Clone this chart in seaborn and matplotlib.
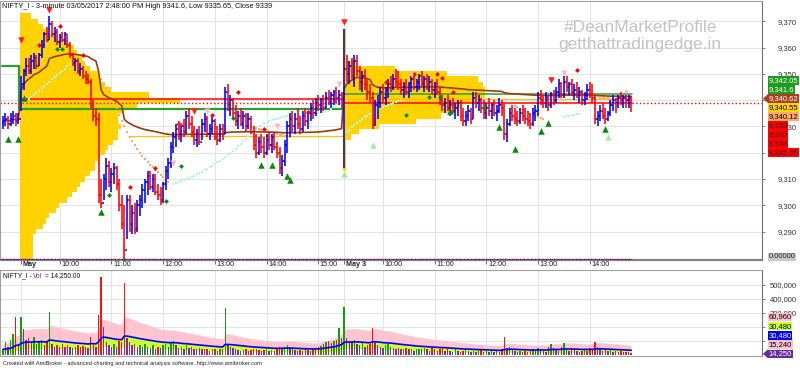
import numpy as np
import pandas as pd
import matplotlib
matplotlib.use("Agg")
import matplotlib.pyplot as plt
import matplotlib.transforms as mtransforms
from matplotlib.patches import Polygon
import seaborn as sns

sns.set_theme(style="white")
plt.rcParams['font.family'] = ['Liberation Sans', 'DejaVu Sans']

# ---------------- price bars (3-minute) ----------------
first_open = 9331
prev_high = [9334, 9335, 9334, 9335, 9336, 9335, 9335]
prev_low = [9329, 9330, 9329, 9330, 9331, 9330, 9331]
prev_close = [9332, 9333, 9331, 9333, 9334, 9332, 9333]

day1_high = [9349, 9352, 9356, 9356, 9357, 9358, 9357, 9358, 9363, 9366,
             9368, 9372, 9370, 9368, 9367, 9365, 9366, 9366, 9365, 9362,
             9358, 9356, 9356, 9354, 9353, 9351, 9350,
             9348, 9340, 9337, 9335, 9310, 9312, 9318, 9317, 9314, 9316,
             9315, 9310, 9304, 9300, 9304, 9304, 9300, 9301, 9302, 9304,
             9308, 9310, 9313, 9313, 9312, 9312, 9308, 9307, 9309, 9315,
             9318, 9324, 9328, 9331,
             9332, 9331, 9333, 9336, 9337, 9334, 9330, 9329, 9330, 9333,
             9335, 9334, 9331, 9334, 9333, 9330, 9331, 9331, 9345,
             9346, 9342, 9341, 9338, 9336, 9337, 9336, 9335, 9335, 9334,
             9330, 9327, 9326, 9327, 9326, 9327, 9328, 9327, 9328, 9324,
             9322, 9319, 9325, 9332, 9335, 9336, 9335, 9337, 9334, 9336,
             9337, 9336, 9339, 9340, 9341, 9342, 9341, 9342, 9343, 9344,
             9343, 9344, 9345, 9344, 9343]
day1_low = [9336, 9344, 9349, 9350, 9350, 9352, 9352, 9353, 9356, 9360,
            9362, 9363, 9364, 9362, 9361, 9360, 9362, 9361, 9360, 9356,
            9353, 9351, 9350, 9349, 9348, 9346, 9346,
            9337, 9332, 9330, 9301, 9299, 9302, 9306, 9307, 9305, 9308,
            9306, 9298, 9291, 9279, 9287, 9290, 9289, 9289, 9290, 9296,
            9299, 9301, 9304, 9306, 9305, 9304, 9302, 9300, 9301, 9306,
            9310, 9314, 9320, 9322,
            9325, 9324, 9326, 9327, 9329, 9326, 9323, 9322, 9323, 9325,
            9328, 9326, 9325, 9327, 9325, 9323, 9324, 9325, 9327,
            9336, 9334, 9333, 9330, 9329, 9330, 9329, 9328, 9329, 9327,
            9321, 9318, 9319, 9320, 9318, 9319, 9321, 9320, 9321, 9318,
            9312, 9311, 9315, 9320, 9326, 9328, 9327, 9329, 9327, 9328,
            9330, 9329, 9332, 9333, 9334, 9336, 9335, 9336, 9337, 9338,
            9337, 9338, 9339, 9338, 9337]
day1_close = [9346, 9351, 9353, 9351, 9355, 9356, 9353, 9357, 9361, 9365,
              9363, 9369, 9365, 9366, 9362, 9364, 9363, 9365, 9361, 9357,
              9354, 9355, 9351, 9352, 9349, 9348, 9347,
              9338, 9334, 9333, 9304, 9301, 9310, 9315, 9309, 9312, 9314,
              9308, 9300, 9293, 9283, 9302, 9293, 9297, 9291, 9300, 9302,
              9306, 9309, 9311, 9307, 9310, 9305, 9304, 9302, 9308, 9313,
              9316, 9322, 9326, 9329,
              9327, 9330, 9328, 9334, 9331, 9328, 9325, 9327, 9324, 9331,
              9333, 9327, 9329, 9332, 9326, 9325, 9329, 9327, 9343,
              9338, 9340, 9335, 9332, 9334, 9331, 9334, 9330, 9333, 9328,
              9323, 9320, 9324, 9322, 9320, 9325, 9323, 9326, 9322, 9320,
              9314, 9317, 9323, 9330, 9333, 9330, 9333, 9331, 9329, 9334,
              9332, 9335, 9337, 9335, 9339, 9338, 9340, 9337, 9341, 9339,
              9342, 9343, 9341, 9342, 9340]

day2_high = [9367, 9357, 9355, 9356, 9357, 9357, 9353, 9351, 9352, 9348,
             9346, 9343, 9340, 9342, 9345, 9346, 9345, 9348, 9349, 9350,
             9352, 9351, 9348, 9347, 9348, 9347, 9349, 9350, 9348, 9350,
             9351, 9349, 9350, 9349, 9348, 9347, 9348, 9345, 9342, 9341,
             9342, 9340, 9341, 9339, 9340, 9340, 9337, 9336, 9338, 9337,
             9343, 9343, 9342, 9341, 9340, 9339, 9341, 9339, 9340, 9338,
             9341, 9340, 9339, 9333, 9337, 9338, 9337, 9336, 9337, 9338,
             9337, 9336, 9335, 9337, 9338, 9343, 9344, 9342, 9343, 9342,
             9343, 9344, 9345, 9348, 9347, 9349, 9349, 9347, 9348, 9346,
             9347, 9345, 9344, 9343, 9346, 9347, 9346, 9342, 9336, 9338,
             9339, 9337, 9336, 9340, 9342, 9341, 9342, 9343, 9342, 9342,
             9342, 9341.6]
day2_low = [9314, 9347, 9346, 9348, 9345, 9349, 9344, 9343, 9344, 9340,
            9339, 9329, 9330, 9333, 9337, 9339, 9338, 9341, 9343, 9344,
            9345, 9344, 9342, 9341, 9342, 9341, 9343, 9344, 9343, 9344,
            9345, 9343, 9344, 9343, 9342, 9341, 9342, 9338, 9336, 9335,
            9336, 9334, 9335, 9333, 9334, 9332, 9330, 9330, 9332, 9331,
            9333, 9337, 9336, 9335, 9333, 9333, 9334, 9333, 9334, 9332,
            9335, 9334, 9325, 9324, 9330, 9332, 9331, 9330, 9331, 9332,
            9331, 9330, 9329, 9330, 9332, 9334, 9338, 9337, 9337, 9336,
            9337, 9338, 9339, 9341, 9341, 9341, 9343, 9342, 9342, 9340,
            9341, 9339, 9338, 9338, 9340, 9341, 9339, 9331, 9330, 9332,
            9333, 9331, 9332, 9334, 9336, 9335, 9337, 9338, 9337, 9337,
            9337, 9335.65]
day2_close = [9352, 9350, 9353, 9349, 9355, 9351, 9347, 9349, 9346, 9343,
              9341, 9331, 9338, 9339, 9343, 9341, 9344, 9346, 9345, 9348,
              9347, 9346, 9344, 9345, 9343, 9346, 9348, 9345, 9347, 9349,
              9346, 9348, 9345, 9347, 9344, 9346, 9343, 9340, 9338, 9339,
              9337, 9338, 9336, 9337, 9339, 9334, 9332, 9334, 9336, 9333,
              9341, 9339, 9340, 9337, 9335, 9337, 9336, 9338, 9335, 9336,
              9338, 9337, 9327, 9331, 9335, 9334, 9333, 9332, 9335, 9334,
              9333, 9332, 9331, 9335, 9336, 9341, 9340, 9339, 9341, 9338,
              9342, 9340, 9343, 9346, 9342, 9347, 9345, 9346, 9343, 9344,
              9342, 9343, 9340, 9342, 9344, 9342, 9341, 9333, 9334, 9336,
              9334, 9333, 9335, 9338, 9340, 9339, 9341, 9340, 9341, 9340,
              9341, 9339]

# ---------------- volume (thousands) ----------------
prev_vol = [40, 90, 60, 110, 150, 271, 80]
day1_vol = [271, 186, 110, 120, 90, 130, 80, 100, 110, 70,
            90, 307, 80, 60, 70, 55, 80, 60, 70, 60,
            50, 60, 70, 55, 65, 60, 50,
            128, 70, 60, 285, 557, 200, 90, 70, 60, 80,
            60, 100, 90, 514, 120, 90, 70, 80, 60, 70,
            60, 80, 60, 50, 70, 40, 60, 50, 70, 80,
            60, 90, 100, 70,
            50, 60, 45, 70, 50, 60, 45, 40, 50, 45,
            40, 45, 30, 40, 45, 30, 40, 45, 335,
            80, 60, 50, 40, 35, 30, 35, 40, 30, 35,
            40, 45, 35, 30, 35, 40, 30, 35, 30, 40,
            55, 45, 60, 70, 50, 40, 35, 30, 35, 30,
            40, 35, 30, 45, 40, 55, 65, 80, 90, 100,
            85, 100, 110, 193, 120]
day2_vol = [343, 120, 100, 90, 110, 80, 70, 90, 60, 70,
            80, 193, 100, 70, 60, 50, 70, 80, 60, 50,
            45, 50, 40, 45, 50, 40, 45, 30, 40, 45,
            40, 50, 40, 30, 50, 40, 30, 40, 50, 30,
            40, 30, 20, 40, 30, 20, 30, 40, 30, 20,
            30, 20, 30, 40, 20, 30, 20, 30, 20, 30,
            20, 40, 128, 50, 60, 40, 30, 20, 30, 20,
            30, 20, 30, 40, 30, 50, 40, 30, 20, 60,
            78, 50, 40, 30, 60, 85, 40, 30, 50, 40,
            30, 20, 30, 40, 30, 50, 40, 93, 60, 40,
            30, 40, 30, 35, 25, 30, 25, 30, 20, 25, 20, 14.25]

# ---------------- market profiles (bin low price, length in bars) ----------------
profile1_low = list(range(9279, 9373, 2))
profile1_len = [5, 5, 5, 5, 5, 6, 9, 10, 11, 14, 15, 18, 20, 22, 23, 25, 27, 29,
                29, 30, 33, 34, 36, 38, 38, 39, 38, 38, 40, 45, 62, 50, 35, 33,
                31, 30, 27, 25, 24, 22, 21, 18, 14, 11, 9, 7, 4]
profile2_low = list(range(9313, 9367, 2))
profile2_len = [1, 1, 1, 1, 1, 1, 3, 6, 14, 28, 38, 42, 46, 52, 55, 55, 54, 52,
                40, 20, 5, 1, 1, 1, 1, 1, 1]

# ---------------- trailing-stop dots ----------------
cyan1_start, cyan1 = 2, [9339.6, 9340.3, 9341.1, 9341.9, 9342.8, 9343.6, 9344.5,
                         9345.3, 9346.2, 9347.0, 9347.9, 9348.7, 9349.6, 9350.4,
                         9351.2, 9352.0, 9352.8, 9353.6, 9354.3, 9355.0, 9355.6]
cyan2_start, cyan2 = 59, [9308.0, 9308.4, 9308.8, 9309.2, 9309.6, 9310.0, 9310.4, 9310.9, 9311.3, 9311.8,
                          9312.3, 9312.8, 9313.3, 9313.9, 9314.5, 9315.1, 9315.7, 9316.3, 9316.9, 9317.5,
                          9318.2, 9319.0, 9319.8, 9320.6, 9321.5, 9322.4, 9323.3, 9324.3, 9325.3, 9326.3,
                          9327.3, 9328.3, 9329.2, 9330.0, 9330.7, 9331.3, 9331.8, 9332.2, 9332.5, 9332.8,
                          9333.0, 9333.2, 9333.4, 9333.6, 9333.8, 9334.0, 9334.1, 9334.2, 9334.3, 9334.4,
                          9334.5, 9334.6, 9334.7, 9334.8, 9334.9, 9335.0, 9335.1, 9335.3, 9335.5, 9335.7,
                          9336.0, 9336.5, 9337.2, 9338.0, 9338.8, 9339.6]
cyan3_start, cyan3 = 126, [9328.0, 9328.8, 9329.6, 9330.4, 9331.2, 9332.0, 9332.7, 9333.4,
                           9334.1, 9334.8, 9335.4, 9336.0, 9336.5, 9337.0, 9337.5, 9337.9,
                           9338.3, 9338.7, 9339.0, 9339.3, 9339.6, 9339.8]
cyan4_start, cyan4 = 210, [9333.6, 9333.8, 9334.0, 9334.2, 9334.4, 9334.6, 9334.8]
orange1_start, orange1 = 31, [9348.0, 9346.0, 9344.5, 9343.0, 9341.0, 9339.0, 9337.0, 9334.5,
                              9332.0, 9330.0, 9328.0, 9326.0, 9324.3, 9322.8, 9321.3, 9320.0,
                              9318.8, 9317.6, 9316.5, 9315.4, 9314.4, 9313.4, 9312.5, 9311.6,
                              9310.7, 9309.8, 9309.0]
orange2_start, orange2 = 88, [9330.0, 9329.8, 9329.5, 9329.3, 9329.0, 9328.8, 9328.5, 9328.2, 9328.0,
                              9327.7, 9327.4, 9327.2, 9326.9, 9326.7, 9326.4, 9326.2, 9326.0]
orange3_start, orange3 = 191, [9337.7, 9337.3, 9336.8, 9336.3, 9335.8, 9335.3, 9334.8, 9334.3,
                               9333.9, 9333.5, 9333.1, 9332.7]
orange4_start, orange4 = 224, [9341.0, 9340.9, 9340.8, 9340.7, 9340.6, 9340.6, 9340.5, 9340.4,
                               9340.4, 9340.3, 9340.2, 9340.2, 9340.12]

# ---------------- signal markers (bar, price) ----------------
red_tri_k = [0, 11, 61, 67, 125, 205]
red_tri_p = [9362.7, 9374.2, 9330.0, 9336.0, 9369.6, 9347.7]
pink_tri_k = [59, 72, 99, 123, 210]
pink_tri_p = [9316.0, 9336.0, 9330.0, 9346.0, 9350.4]
green_tri_k = [-5, -1, 1, 31, 40, 93, 97, 103, 104, 166, 185, 191, 201, 204, 226]
green_tri_p = [9325.4, 9325.4, 9340.8, 9297.3, 9279.2, 9315.4, 9315.4, 9311.0, 9309.5,
               9335.8, 9329.6, 9321.5, 9328.1, 9331.2, 9329.2]
lgreen_tri_k = [125, 136, 227]
lgreen_tri_p = [9312.0, 9323.0, 9326.0]
red_dot_k = [7, 15, 24, 42, 52, 74, 84, 94, 111, 141, 152, 161, 163, 167, 215]
red_dot_p = [9360.8, 9368.1, 9357.3, 9306.9, 9314.2, 9334.2, 9343.1, 9328.9, 9335.4,
             9346.9, 9350.0, 9350.0, 9348.5, 9343.1, 9351.5]
green_dot_k = [14, 16, 34, 56, 62, 82, 149, 158, 162, 179]
green_dot_p = [9359.6, 9359.6, 9303.9, 9301.5, 9315.0, 9333.1, 9334.2, 9341.2, 9341.2, 9337.0]
pink_dot_k = [151, 234]
pink_dot_p = [9350.0, 9343.5]

# ---------------- horizontal levels ----------------
lvl_price = [9340.4, 9338.8, 9336.5, 9326.2, 9339.0, 9342.2, 9340.55, 9339.0]
lvl_from = [-0.5, -8.2, -0.5, 42, 124.5, 124.5, 124.5, 236.5]
lvl_to = [124.5, 124.5, 124.5, 124.5, 236.5, 236.5, 236.5, 287]
lvl_color = ['#FF0000', '#FF0000', '#2CA02C', '#FFC000', '#FF0000', '#2CA02C', '#FFC000', '#FF0000']
lvl_style = ['-', ':', '-', '-', '-', '-', '-', ':']
lvl_width = [1.1, 1.0, 1.6, 0.9, 1.1, 1.1, 0.9, 1.0]
prev_step_k = [-7.3, -0.8, -0.8]
prev_step_p = [9353.0, 9353.0, 9336.5]

# ---------------- axis labels ----------------
tick_k = [0, 15, 35, 55, 75, 95, 115, 125, 140, 160, 180, 200, 220]
tick_lbl = ['May', '10:00', '11:00', '12:00', '13:00', '14:00', '15:00',
            'May 3', '10:00', '11:00', '12:00', '13:00', '14:00']
price_ticks = [9290, 9300, 9310, 9320, 9330, 9340, 9350, 9360, 9370]
price_tick_lbl = ['9,290', '9,300', '9,310', '', '9,330', '', '9,350', '9,360', '9,370']
vol_ticks = [100000, 200000, 300000, 400000, 500000]
vol_tick_lbl = ['', '', '300,000', '400,000', '500,000']
price_tags = ['9,342.05', '9,341.6', '9,340.62', '9,340.55', '9,340.12', '9,339', '9,339', '9,339', '9,335.65']
price_tag_bg = ['#1E9A1E', '#1E9A1E', '#A5421A', '#FFD400', '#FFA868', '#FF0000', '#FF0000', '#FF0000', '#FF0000']
price_tag_fg = ['white', 'white', 'white', 'black', 'black', '#3A0000', '#3A0000', '#3A0000', '#3A0000']
vol_tags = ['60,960', '30,480', '30,480', '15,240', '14,250']
vol_tag_bg = ['#FFC0CB', '#CCFF33', '#0000FF', '#FFC0CB', '#6A2A9A']
vol_tag_fg = ['black', 'black', 'white', 'black', 'white']

# ================= build frame =================
highs = np.array(prev_high + day1_high + day2_high, float)
lows = np.array(prev_low + day1_low + day2_low, float)
closes = np.array(prev_close + day1_close + day2_close, float)
vols = np.array(prev_vol + day1_vol + day2_vol, float) * 1000
n = len(closes)
kk = np.arange(n) - 7
opens = np.concatenate([[first_open], closes[:-1]])
day = np.array([-1] * len(prev_close) + [0] * len(day1_close) + [1] * len(day2_close))
df = pd.DataFrame(dict(k=kk, o=opens, h=highs, l=lows, c=closes, v=vols, day=day))
df['tp'] = (df.h + df.l + df.c) / 3
df['pv'] = df.tp * df.v
df['vwap'] = df.groupby('day').pv.cumsum() / df.groupby('day').v.cumsum()
df['ma'] = df.v.ewm(span=30, adjust=False).mean()

W, H = 800, 368
fig = plt.figure(figsize=(8, 3.68), dpi=100, facecolor='white')
ax = fig.add_axes([0, 1 - 260 / H, 762 / W, 259 / H])
axv = fig.add_axes([0, 1 - 356 / H, 762 / W, 86 / H])

XMIN, XMAX = -8.1, 286.6
ax.set_xlim(XMIN, XMAX)
ax.set_ylim(9279.2, 9377.7)
axv.set_xlim(XMIN, XMAX)
axv.set_ylim(-7000, 607000)

grid_c = '#E4E4E4'
for a, ticks in ((ax, price_ticks), (axv, vol_ticks)):
    a.set_facecolor('white')
    a.hlines(ticks, XMIN, XMAX, color=grid_c, lw=0.8, zorder=0)
    lo, hi = a.get_ylim()
    a.vlines(tick_k, lo, hi, color=grid_c, lw=0.8, zorder=0)
    for s in a.spines.values():
        s.set_color('#A0A0A0')
        s.set_linewidth(0.8)
    a.spines['right'].set_color('#707070')
    a.yaxis.tick_right()
    a.tick_params(axis='y', which='major', right=True, left=False, direction='out',
                  length=2.2, width=0.6, color='#707070', labelsize=5.5,
                  labelcolor='#333333', pad=23)
    a.set_xticks(tick_k)
    a.tick_params(axis='x', bottom=True, direction='out', length=2.6, width=0.6,
                  color='#555555', labelbottom=False)
ax.spines['bottom'].set_color('#808080')
ax.spines['bottom'].set_linewidth(1.6)

# ---- profiles ----
ax.barh(np.array(profile1_low) + 1, profile1_len, left=-0.3, height=2.0,
        color='#FFD200', lw=0, zorder=1)
ax.barh(np.array(profile2_low) + 1, profile2_len, left=124.6, height=2.0,
        color='#FFD200', lw=0, zorder=1)

# ---- levels ----
for p, x0, x1, c, ls, lw in zip(lvl_price, lvl_from, lvl_to, lvl_color, lvl_style, lvl_width):
    ax.plot([x0, x1], [p, p], color=c, ls=ls, lw=lw, zorder=2)
ax.plot(prev_step_k, prev_step_p, color='#2CA02C', lw=1.6, zorder=2)

# ---- trailing dots ----
for start, vals, col in ((cyan1_start, cyan1, '#B0F4F4'), (cyan2_start, cyan2, '#B0F4F4'),
                         (cyan3_start, cyan3, '#B0F4F4'), (cyan4_start, cyan4, '#B0F4F4'),
                         (orange1_start, orange1, '#FFA868'), (orange2_start, orange2, '#FFA868'),
                         (orange3_start, orange3, '#FFA868'), (orange4_start, orange4, '#FFA868')):
    xs = np.arange(start, start + len(vals))
    ax.scatter(xs, vals, s=3.5, marker='s', color=col, lw=0, zorder=3)

# ---- VWAP ----
sns.lineplot(data=df, x='k', y='vwap', ax=ax, color='#9A3B12', lw=1.2, zorder=3)

# ---- OHLC bars ----
bar_col = np.where(df.c >= df.o, '#0000FF', '#FF0000')
ax.vlines(df.k, df.l, df.h, colors=bar_col, lw=1.15, zorder=4)
ax.hlines(df.o, df.k - 0.5, df.k, colors=bar_col, lw=1.15, zorder=4)
ax.hlines(df.c, df.k, df.k + 0.5, colors=bar_col, lw=1.15, zorder=4)

# ---- markers ----
sns.scatterplot(x=red_tri_k, y=red_tri_p, marker='v', s=22, color='#FF2020', linewidth=0, ax=ax, zorder=5)
sns.scatterplot(x=pink_tri_k, y=pink_tri_p, marker='v', s=18, color='#FFB6C8', linewidth=0, ax=ax, zorder=5)
sns.scatterplot(x=green_tri_k, y=green_tri_p, marker='^', s=22, color='#0A8A0A', linewidth=0, ax=ax, zorder=5)
sns.scatterplot(x=lgreen_tri_k, y=lgreen_tri_p, marker='^', s=20, color='#98F098', linewidth=0, ax=ax, zorder=5)
sns.scatterplot(x=red_dot_k, y=red_dot_p, marker='D', s=6, color='#FF0000', linewidth=0, ax=ax, zorder=5)
sns.scatterplot(x=green_dot_k, y=green_dot_p, marker='D', s=6, color='#0A8A0A', linewidth=0, ax=ax, zorder=5)
sns.scatterplot(x=pink_dot_k, y=pink_dot_p, marker='D', s=6, color='#FFB6C8', linewidth=0, ax=ax, zorder=5)

# bottom red/blue dotted axis line
ybot = 9279.6
ax.plot([XMIN, 236.5], [ybot, ybot], color='#FF0000', lw=0.9, ls=(0, (1, 2)), zorder=6)
ax.plot([XMIN, 236.5], [ybot, ybot], color='#0000FF', lw=0.9, ls=(1.5, (1, 2)), zorder=6)

# time labels
trans = mtransforms.blended_transform_factory(ax.transData, ax.transAxes)
for t, lbl in zip(tick_k, tick_lbl):
    ax.text(t + 0.6, -5 / 259, lbl, transform=trans, ha='left', va='center',
            fontsize=5.2, color='#222222',
            fontweight='bold' if lbl.startswith('May') else 'normal', clip_on=False)

# ---- volume panel ----
axv.fill_between(df.k, 0.5 * df.ma, 2 * df.ma, color='#FFC4CE', lw=0, zorder=1)
axv.fill_between(df.k, 0.5 * df.ma, df.ma, color='#CCFF33', lw=0, zorder=2)
vprev = np.concatenate([[vols[0]], vols[:-1]])
vcol = np.where(vols < vprev, '#7A2FA0', np.where(df.c >= df.o, '#10A010', '#FF1010'))
axv.bar(df.k, df.v, width=0.55, color=vcol, lw=0, zorder=3)
sns.lineplot(data=df, x='k', y='ma', ax=axv, color='#0000FF', lw=1.2, zorder=4)

for a, ticks, lbls in ((ax, price_ticks, price_tick_lbl), (axv, vol_ticks, vol_tick_lbl)):
    a.set_yticks(ticks)
    a.set_yticklabels(lbls)
    plt.setp(a.get_yticklabels(), ha='right')
    a.set_xticks(tick_k)
    a.set_xticklabels([''] * len(tick_k))
    a.set_xlabel('')
    a.set_ylabel('')
axv.tick_params(axis='x', length=0)

# ---- texts ----
fig.text(2 / W, 1 - 6 / H,
         'NIFTY_I - 3-minute 03/05/2017 2:48:00 PM High 9341.6, Low 9335.65, Close 9339',
         fontsize=5.35, ha='left', va='center', color='#111111')
fig.text(3 / W, 1 - 276 / H, 'NIFTY_I - ', fontsize=4.8, ha='left', va='center', color='#111111')
fig.text(33 / W, 1 - 276 / H, 'Vol', fontsize=4.8, ha='left', va='center', color='#7A2FA0')
fig.text(45 / W, 1 - 276 / H, '= 14,250.00', fontsize=4.8, ha='left', va='center', color='#111111')
fig.text(3 / W, 1 - 364 / H,
         'Created with AmiBroker - advanced charting and technical analysis software. http://www.amibroker.com',
         fontsize=4.1, ha='left', va='center', color='#222222')
fig.text(641 / W, 1 - 28 / H, '#DeanMarketProfile', fontsize=12.5, color='#C4C4C4', ha='center', va='center')
fig.text(640 / W, 1 - 45 / H, 'getthattradingedge.in', fontsize=12.5, color='#C4C4C4', ha='center', va='center')


def tag(y_px, text, bg, fg, arrow=False):
    fy = 1 - y_px / H
    fig.text(768.5 / W, fy, text, fontsize=5.5, color=fg, ha='left', va='center',
             bbox=dict(boxstyle='square,pad=0.1', fc=bg, ec='none'))
    if arrow:
        fig.patches.append(Polygon([[763 / W, fy], [768 / W, fy + 4.5 / H], [768 / W, fy - 4.5 / H]],
                                   closed=True, transform=fig.transFigure, fc=bg, ec='none'))


for i, (t, bg, fg) in enumerate(zip(price_tags, price_tag_bg, price_tag_fg)):
    tag(80.5 + 9 * i, t, bg, fg, arrow=(i == 2))
tag(257, '0.00000', '#C8C8C8', '#222222')
for i, (t, bg, fg) in enumerate(zip(vol_tags, vol_tag_bg, vol_tag_fg)):
    tag(317 + 9.2 * i, t, bg, fg, arrow=(i == 4))

fig.savefig('out.png', dpi=100, facecolor='white')
